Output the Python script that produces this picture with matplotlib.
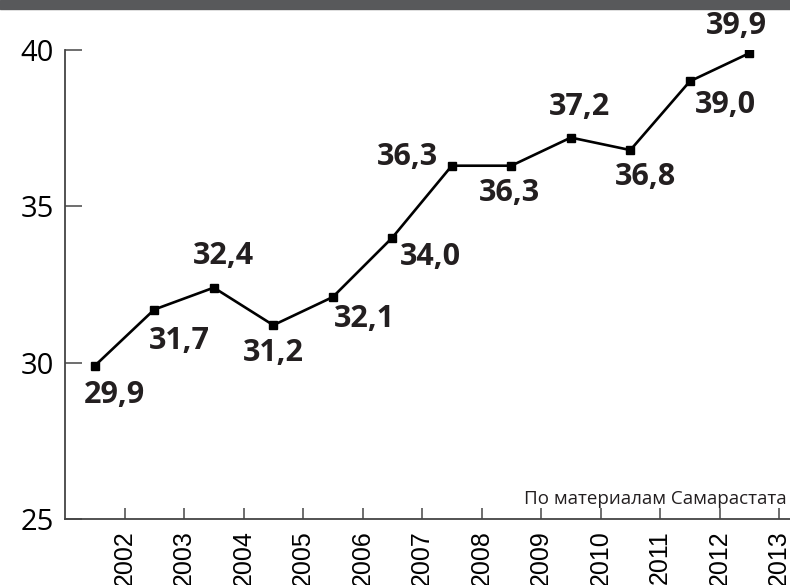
import matplotlib.pyplot as plt
from matplotlib.patches import Rectangle

# data
years = ["2002", "2003", "2004", "2005", "2006", "2007",
         "2008", "2009", "2010", "2011", "2012", "2013"]
values = [29.9, 31.7, 32.4, 31.2, 32.1, 34.0, 36.3, 36.3, 37.2, 36.8, 39.0, 39.9]
y_ticks = [25, 30, 35, 40]
source = "По материалам Самарастата"

# label offsets in pixels (dx, dy) relative to each point
label_offsets = [(20, -29), (25, -31), (10, 32), (0, -28), (32, -22), (38, -19),
                 (-44, 9), (-2, -27), (9, 31), (15, -27), (36, -24), (-13, 27)]


def main():
    fig = plt.figure(figsize=(7.9, 5.85), dpi=100)
    ax = fig.add_axes([0.0823, 0.1128, 0.919, 0.8017])

    # dark banner at the very top
    fig.patches.append(Rectangle((0, 0.984), 1, 0.016, transform=fig.transFigure,
                                 color="#58595b", zorder=0))

    xs = [i + 0.5 for i in range(len(values))]
    ax.plot(xs, values, color="black", lw=1.9, marker="s", markersize=6, zorder=3)

    for x, v, (dx, dy) in zip(xs, values, label_offsets):
        ax.annotate(f"{v:.1f}".replace(".", ","), (x, v), xytext=(dx, dy),
                    textcoords="offset pixels", ha="center", va="center",
                    fontsize=22, fontweight="bold", family="Open Sans", color="#231f20")

    ax.set_xlim(0, 12.2)
    ax.set_ylim(25, 40)
    ax.set_xticks(range(1, len(years) + 1))
    ax.set_xticklabels(years, rotation=90, family="Liberation Sans", fontsize=18)
    ax.set_yticks(y_ticks)
    ax.set_yticklabels([str(t) for t in y_ticks], family="Open Sans", fontsize=21)

    ax.tick_params(axis="x", direction="in", length=8, width=1.2, color="#555555", pad=8)
    ax.tick_params(axis="y", direction="in", length=12, width=1.2, color="#555555", pad=8)
    for t in ax.get_xticklabels():
        t.set_va("top")

    for side in ["top", "right"]:
        ax.spines[side].set_visible(False)
    for side in ["left", "bottom"]:
        ax.spines[side].set_color("#444444")
        ax.spines[side].set_linewidth(1.3)

    fig.text(0.996, 0.147, source, ha="right", va="center",
             family="Open Sans", fontsize=13.5, color="#231f20")

    fig.savefig("out.png", dpi=100)


if __name__ == "__main__":
    main()
